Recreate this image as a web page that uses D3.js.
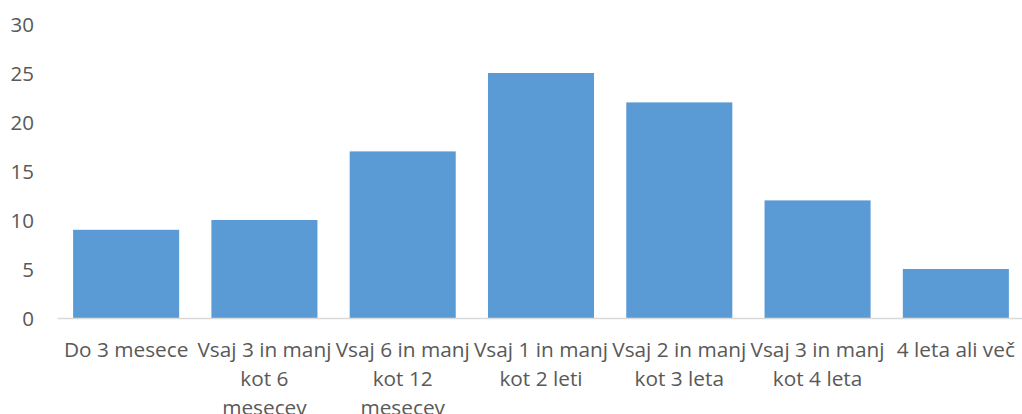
<!DOCTYPE html>
<html>
<head>
<meta charset="utf-8">
<script src="https://cdn.jsdelivr.net/npm/d3@7"></script>
<style>
  html, body { margin: 0; padding: 0; background: #fff; overflow: hidden; }
  svg { display: block; }
</style>
</head>
<body>
<svg id="chart" width="1022" height="414"></svg>
<script>
const categories = [
  "Do 3 mesece",
  "Vsaj 3 in manj kot 6 mesecev",
  "Vsaj 6 in manj kot 12 mesecev",
  "Vsaj 1 in manj kot 2 leti",
  "Vsaj 2 in manj kot 3 leta",
  "Vsaj 3 in manj kot 4 leta",
  "4 leta ali več"
];
const categoryLines = [
  ["Do 3 mesece"],
  ["Vsaj 3 in manj", "kot 6", "mesecev"],
  ["Vsaj 6 in manj", "kot 12", "mesecev"],
  ["Vsaj 1 in manj", "kot 2 leti"],
  ["Vsaj 2 in manj", "kot 3 leta"],
  ["Vsaj 3 in manj", "kot 4 leta"],
  ["4 leta ali več"]
];
const values = [9, 10, 17, 25, 22, 12, 5];
const yTicks = [0, 5, 10, 15, 20, 25, 30];

const svg = d3.select("#chart");
const margin = { left: 57, right: -3, top: 24, bottom: 96 };
const W = 1022, H = 414;
const font = "'Open Sans', sans-serif";
const textColor = "#595959";

const x = d3.scaleBand()
  .domain(categories)
  .range([margin.left, W - margin.right])
  .paddingInner(0.233)
  .paddingOuter(0.1165);

const y = d3.scaleLinear()
  .domain([0, 30])
  .range([H - margin.bottom, margin.top]);

// Y axis labels (no line, no ticks)
const yAxis = d3.axisLeft(y).tickValues(yTicks).tickSize(0).tickPadding(0);
const yg = svg.append("g")
  .attr("transform", `translate(34,0)`)
  .call(yAxis);
yg.select(".domain").remove();
yg.selectAll("text")
  .attr("font-family", font)
  .attr("font-size", "20.5px")
  .attr("fill", textColor)
  .attr("dy", "0.35em");

// Bars
svg.append("g")
  .selectAll("rect")
  .data(values)
  .join("rect")
  .attr("x", (d, i) => x(categories[i]))
  .attr("y", d => y(d))
  .attr("width", x.bandwidth())
  .attr("height", d => y(0) - y(d))
  .attr("fill", "#5B9BD5");

// X axis
const xAxis = d3.axisBottom(x).tickSize(0).tickFormat("");
const xg = svg.append("g")
  .attr("transform", `translate(0,${y(0)})`)
  .call(xAxis);
xg.select(".domain")
  .attr("stroke", "#d9d9d9")
  .attr("stroke-width", 1.5);

// Category labels (wrapped)
const lab = svg.append("g");
categories.forEach((c, i) => {
  const cx = x(c) + x.bandwidth() / 2;
  const t = lab.append("text")
    .attr("text-anchor", "middle")
    .attr("font-family", font)
    .attr("font-size", "20.8px")
    .attr("fill", textColor);
  categoryLines[i].forEach((line, j) => {
    t.append("tspan")
      .attr("x", cx)
      .attr("y", y(0) + 32 + j * 28.7)
      .attr("dy", "0.35em")
      .text(line);
  });
});
</script>
</body>
</html>
